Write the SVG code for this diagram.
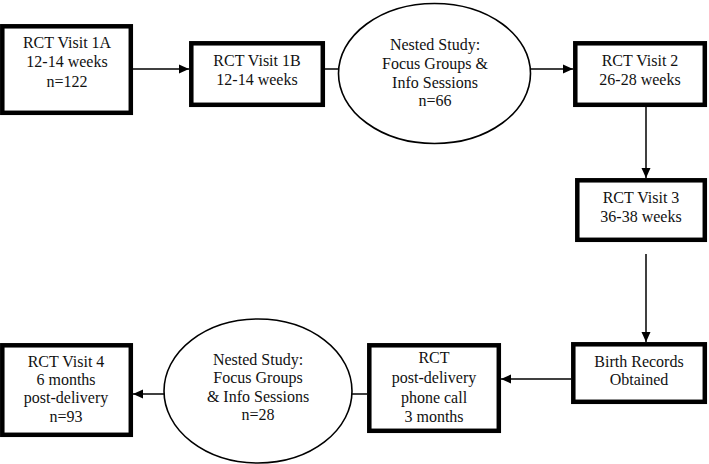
<svg xmlns="http://www.w3.org/2000/svg" width="709" height="464" viewBox="0 0 709 464">
<defs>
<marker id="ah" markerWidth="10" markerHeight="10" viewBox="0 0 10 10" refX="10" refY="5" orient="auto" markerUnits="userSpaceOnUse">
<path d="M0,0.5 L10,5 L0,9.5 Z" fill="#000"/>
</marker>
<style>
.box{fill:#fff;stroke:#000;stroke-width:4.5}
.ell{fill:#fff;stroke:#000;stroke-width:1.6}
.c{fill:none;stroke:#000;stroke-width:1.5}
.t{font-family:'Liberation Serif','Times New Roman',serif;font-size:16px;fill:#111;text-anchor:middle}
</style>
</defs>
<rect width="709" height="464" fill="#fff"/>
<g id="connectors">
<line class="c" x1="133" y1="69" x2="189" y2="69" marker-end="url(#ah)"/>
<line class="c" x1="324" y1="69" x2="338" y2="69"/>
<line class="c" x1="531" y1="69" x2="573" y2="69" marker-end="url(#ah)"/>
<line class="c" x1="646" y1="107" x2="646" y2="178" marker-end="url(#ah)"/>
<line class="c" x1="646" y1="254" x2="646" y2="342" marker-end="url(#ah)"/>
<line class="c" x1="571" y1="379" x2="501" y2="379" marker-end="url(#ah)"/>
<line class="c" x1="367" y1="394" x2="339" y2="394"/>
<line class="c" x1="164" y1="394" x2="133" y2="394" marker-end="url(#ah)"/>
</g>
<g id="v1a" class="t">
<rect class="box" x="2.3" y="26.3" width="128.5" height="86.5"/>
<text x="67" y="48">RCT Visit 1A</text>
<text x="67" y="67">12-14 weeks</text>
<text x="67" y="86.5">n=122</text>
</g>
<g id="v1b" class="t">
<rect class="box" x="191.3" y="43.3" width="131.5" height="61.5"/>
<text x="257" y="66">RCT Visit 1B</text>
<text x="257" y="84.5">12-14 weeks</text>
</g>
<g id="nested1" class="t">
<ellipse class="ell" cx="434.5" cy="73.5" rx="96" ry="70"/>
<text x="435" y="50">Nested Study:</text>
<text x="435" y="69">Focus Groups &amp;</text>
<text x="435" y="87.5">Info Sessions</text>
<text x="435" y="106">n=66</text>
</g>
<g id="v2" class="t">
<rect class="box" x="575.3" y="43.3" width="129.5" height="61.5"/>
<text x="640" y="66">RCT Visit 2</text>
<text x="640" y="85">26-28 weeks</text>
</g>
<g id="v3" class="t">
<rect class="box" x="577.3" y="180.3" width="127.5" height="59.5"/>
<text x="641" y="203">RCT Visit 3</text>
<text x="641" y="222">36-38 weeks</text>
</g>
<g id="birth" class="t">
<rect class="box" x="573.3" y="344.3" width="131.5" height="57.5"/>
<text x="639" y="367">Birth Records</text>
<text x="639" y="385">Obtained</text>
</g>
<g id="phone" class="t">
<rect class="box" x="369.3" y="345.3" width="129.5" height="85.5"/>
<text x="434" y="363">RCT</text>
<text x="434" y="383">post-delivery</text>
<text x="434" y="402.5">phone call</text>
<text x="434" y="422">3 months</text>
</g>
<g id="nested2" class="t">
<ellipse class="ell" cx="258" cy="391" rx="94" ry="72"/>
<text x="258" y="365">Nested Study:</text>
<text x="258" y="383">Focus Groups</text>
<text x="258" y="402">&amp; Info Sessions</text>
<text x="258" y="420">n=28</text>
</g>
<g id="v4" class="t">
<rect class="box" x="2.3" y="345.3" width="128.5" height="89.5"/>
<text x="66" y="367">RCT Visit 4</text>
<text x="66" y="385">6 months</text>
<text x="66" y="403">post-delivery</text>
<text x="66" y="422">n=93</text>
</g>
</svg>
